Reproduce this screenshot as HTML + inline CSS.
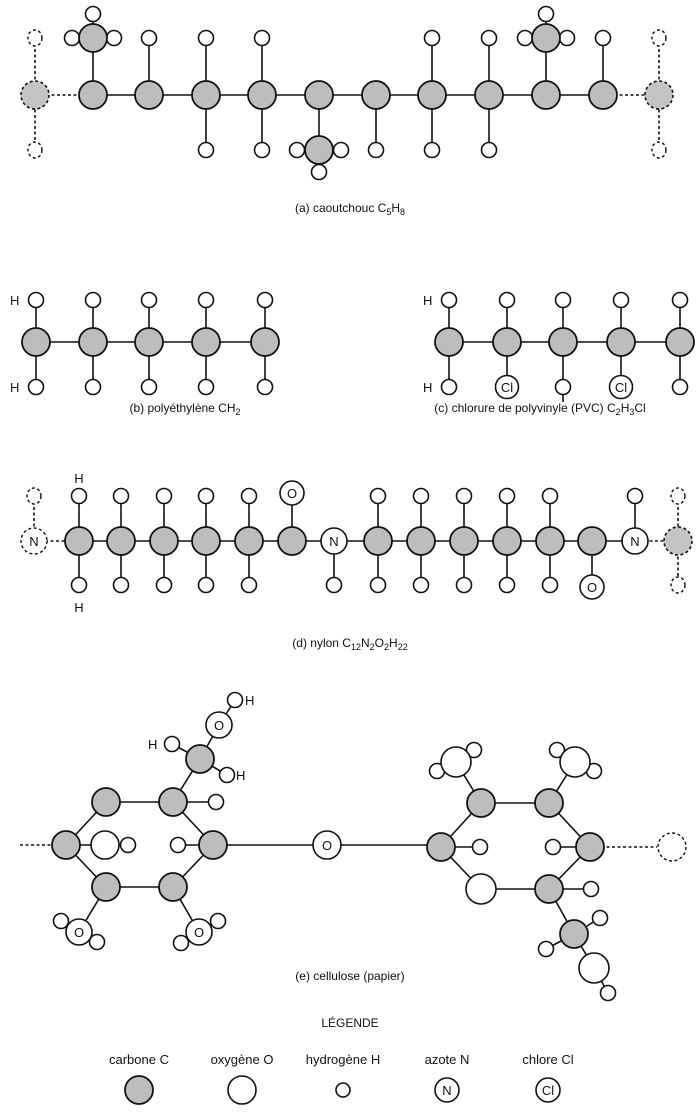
<!DOCTYPE html>
<html><head><meta charset="utf-8"><style>
html,body{margin:0;padding:0;background:#fff;}
svg{display:block;}
text{font-family:"Liberation Sans",Arial,sans-serif;fill:#111;}
.b{stroke:#111;stroke-width:1.6;fill:none;}
.d{stroke:#111;stroke-width:1.6;fill:none;stroke-dasharray:3,2.5;}
.C{fill:#bdbdbd;stroke:#111;stroke-width:1.8;}
.Cd{fill:#c4c4c4;stroke:#111;stroke-width:1.6;stroke-dasharray:3,2.5;}
.W{fill:#fff;stroke:#111;stroke-width:1.6;}
.Wd{fill:#fff;stroke:#111;stroke-width:1.4;stroke-dasharray:3,2.5;}
.l{font-size:13px;text-anchor:middle;}
.cap{font-size:12px;text-anchor:middle;}
</style></head><body>
<svg width="700" height="1113" viewBox="0 0 700 1113" xmlns="http://www.w3.org/2000/svg">
<!-- (a) caoutchouc -->
<g>
<line class="b" x1="93" y1="95" x2="603" y2="95"/>
<line class="d" x1="35" y1="95" x2="93" y2="95"/>
<line class="d" x1="603" y1="95" x2="659" y2="95"/>
<line class="d" x1="35" y1="38" x2="35" y2="150"/>
<line class="d" x1="659" y1="38" x2="659" y2="150"/>
<line class="b" x1="93" y1="14" x2="93" y2="95"/><line class="b" x1="72" y1="38" x2="114" y2="38"/>
<line class="b" x1="546" y1="14" x2="546" y2="95"/><line class="b" x1="525" y1="38" x2="567" y2="38"/>
<line class="b" x1="149" y1="38" x2="149" y2="95"/>
<line class="b" x1="206" y1="38" x2="206" y2="150"/>
<line class="b" x1="262" y1="38" x2="262" y2="150"/>
<line class="b" x1="432" y1="38" x2="432" y2="150"/>
<line class="b" x1="489" y1="38" x2="489" y2="150"/>
<line class="b" x1="603" y1="38" x2="603" y2="95"/>
<line class="b" x1="376" y1="95" x2="376" y2="150"/>
<line class="b" x1="319" y1="95" x2="319" y2="172"/><line class="b" x1="297" y1="150" x2="341" y2="150"/>
<ellipse class="Wd" cx="35" cy="38" rx="7" ry="8"/><ellipse class="Wd" cx="35" cy="150" rx="7" ry="8"/>
<ellipse class="Wd" cx="659" cy="38" rx="7" ry="8"/><ellipse class="Wd" cx="659" cy="150" rx="7" ry="8"/>
<circle class="Cd" cx="35" cy="95" r="14"/><circle class="Cd" cx="659" cy="95" r="14"/>
<circle class="W" cx="93" cy="14" r="7.5"/><circle class="W" cx="72" cy="38" r="7.5"/><circle class="W" cx="114" cy="38" r="7.5"/>
<circle class="C" cx="93" cy="38" r="14"/>
<circle class="W" cx="546" cy="14" r="7.5"/><circle class="W" cx="525" cy="38" r="7.5"/><circle class="W" cx="567" cy="38" r="7.5"/>
<circle class="C" cx="546" cy="38" r="14"/>
<circle class="W" cx="297" cy="150" r="7.5"/><circle class="W" cx="341" cy="150" r="7.5"/><circle class="W" cx="319" cy="172" r="7.5"/>
<circle class="C" cx="319" cy="150" r="14"/>
<circle class="W" cx="149" cy="38" r="7.5"/><circle class="W" cx="206" cy="38" r="7.5"/><circle class="W" cx="262" cy="38" r="7.5"/>
<circle class="W" cx="432" cy="38" r="7.5"/><circle class="W" cx="489" cy="38" r="7.5"/><circle class="W" cx="603" cy="38" r="7.5"/>
<circle class="W" cx="206" cy="150" r="7.5"/><circle class="W" cx="262" cy="150" r="7.5"/><circle class="W" cx="376" cy="150" r="7.5"/>
<circle class="W" cx="432" cy="150" r="7.5"/><circle class="W" cx="489" cy="150" r="7.5"/>
<circle class="C" cx="93" cy="95" r="14"/><circle class="C" cx="149" cy="95" r="14"/><circle class="C" cx="206" cy="95" r="14"/>
<circle class="C" cx="262" cy="95" r="14"/><circle class="C" cx="319" cy="95" r="14"/><circle class="C" cx="376" cy="95" r="14"/>
<circle class="C" cx="432" cy="95" r="14"/><circle class="C" cx="489" cy="95" r="14"/><circle class="C" cx="546" cy="95" r="14"/>
<circle class="C" cx="603" cy="95" r="14"/>
<text class="cap" x="350" y="212">(a) caoutchouc C<tspan font-size="9" dy="3">5</tspan><tspan dy="-3">H</tspan><tspan font-size="9" dy="3">8</tspan></text>
</g>
<!-- (b) polyethylene -->
<g>
<line class="b" x1="36" y1="342" x2="265" y2="342"/>
<line class="b" x1="36" y1="300" x2="36" y2="387"/><line class="b" x1="93" y1="300" x2="93" y2="387"/>
<line class="b" x1="149" y1="300" x2="149" y2="387"/><line class="b" x1="206" y1="300" x2="206" y2="387"/>
<line class="b" x1="265" y1="300" x2="265" y2="387"/>
<circle class="W" cx="36" cy="300" r="7.5"/><circle class="W" cx="93" cy="300" r="7.5"/><circle class="W" cx="149" cy="300" r="7.5"/><circle class="W" cx="206" cy="300" r="7.5"/><circle class="W" cx="265" cy="300" r="7.5"/>
<circle class="W" cx="36" cy="387" r="7.5"/><circle class="W" cx="93" cy="387" r="7.5"/><circle class="W" cx="149" cy="387" r="7.5"/><circle class="W" cx="206" cy="387" r="7.5"/><circle class="W" cx="265" cy="387" r="7.5"/>
<circle class="C" cx="36" cy="342" r="14"/><circle class="C" cx="93" cy="342" r="14"/><circle class="C" cx="149" cy="342" r="14"/><circle class="C" cx="206" cy="342" r="14"/><circle class="C" cx="265" cy="342" r="14"/>
<text x="10" y="305" font-size="13">H</text><text x="10" y="392" font-size="13">H</text>
<text class="cap" x="185" y="412">(b) polyéthylène CH<tspan font-size="9" dy="3">2</tspan></text>
</g>
<!-- (c) PVC -->
<g>
<line class="b" x1="449" y1="342" x2="680" y2="342"/>
<line class="b" x1="449" y1="300" x2="449" y2="387"/><line class="b" x1="507" y1="300" x2="507" y2="387"/>
<line class="b" x1="563" y1="300" x2="563" y2="402"/><line class="b" x1="621" y1="300" x2="621" y2="387"/>
<line class="b" x1="680" y1="300" x2="680" y2="387"/>
<circle class="W" cx="449" cy="300" r="7.5"/><circle class="W" cx="507" cy="300" r="7.5"/><circle class="W" cx="563" cy="300" r="7.5"/><circle class="W" cx="621" cy="300" r="7.5"/><circle class="W" cx="680" cy="300" r="7.5"/>
<circle class="W" cx="449" cy="387" r="7.5"/><circle class="W" cx="563" cy="387" r="7.5"/><circle class="W" cx="680" cy="387" r="7.5"/>
<circle class="W" cx="507" cy="387" r="11.5"/><circle class="W" cx="621" cy="387" r="11.5"/>
<text class="l" x="507" y="392" font-size="12">Cl</text><text class="l" x="621" y="392" font-size="12">Cl</text>
<circle class="C" cx="449" cy="342" r="14"/><circle class="C" cx="507" cy="342" r="14"/><circle class="C" cx="563" cy="342" r="14"/><circle class="C" cx="621" cy="342" r="14"/><circle class="C" cx="680" cy="342" r="14"/>
<text x="423" y="305" font-size="13">H</text><text x="423" y="392" font-size="13">H</text>
<text class="cap" x="540" y="412">(c) chlorure de polyvinyle (PVC) C<tspan font-size="9" dy="3">2</tspan><tspan dy="-3">H</tspan><tspan font-size="9" dy="3">3</tspan><tspan dy="-3">Cl</tspan></text>
</g>
<!-- (d) nylon -->
<g>
<line class="b" x1="79" y1="541" x2="633" y2="541"/>
<line class="d" x1="34" y1="541" x2="79" y2="541"/><line class="d" x1="633" y1="541" x2="678" y2="541"/>
<line class="d" x1="34" y1="496" x2="34" y2="541"/>
<line class="d" x1="678" y1="496" x2="678" y2="585"/>
<line class="b" x1="79" y1="496" x2="79" y2="585"/><line class="b" x1="121" y1="496" x2="121" y2="585"/>
<line class="b" x1="164" y1="496" x2="164" y2="585"/><line class="b" x1="206" y1="496" x2="206" y2="585"/>
<line class="b" x1="249" y1="496" x2="249" y2="585"/>
<line class="b" x1="292" y1="493" x2="292" y2="541"/>
<line class="b" x1="334" y1="541" x2="334" y2="585"/>
<line class="b" x1="378" y1="496" x2="378" y2="585"/><line class="b" x1="421" y1="496" x2="421" y2="585"/>
<line class="b" x1="464" y1="496" x2="464" y2="585"/><line class="b" x1="507" y1="496" x2="507" y2="585"/>
<line class="b" x1="550" y1="496" x2="550" y2="585"/>
<line class="b" x1="592" y1="541" x2="592" y2="587"/>
<line class="b" x1="635" y1="496" x2="635" y2="541"/>
<ellipse class="Wd" cx="34" cy="496" rx="7" ry="8"/><ellipse class="Wd" cx="678" cy="496" rx="7" ry="8"/><ellipse class="Wd" cx="678" cy="585" rx="7" ry="8"/>
<circle class="Wd" cx="34" cy="541" r="13"/><text class="l" x="34" y="546">N</text>
<circle class="Cd" cx="678" cy="541" r="14"/>
<g>
<circle class="W" cx="79" cy="496" r="7.5"/><circle class="W" cx="121" cy="496" r="7.5"/><circle class="W" cx="164" cy="496" r="7.5"/><circle class="W" cx="206" cy="496" r="7.5"/><circle class="W" cx="249" cy="496" r="7.5"/>
<circle class="W" cx="378" cy="496" r="7.5"/><circle class="W" cx="421" cy="496" r="7.5"/><circle class="W" cx="464" cy="496" r="7.5"/><circle class="W" cx="507" cy="496" r="7.5"/><circle class="W" cx="550" cy="496" r="7.5"/><circle class="W" cx="635" cy="496" r="7.5"/>
<circle class="W" cx="79" cy="585" r="7.5"/><circle class="W" cx="121" cy="585" r="7.5"/><circle class="W" cx="164" cy="585" r="7.5"/><circle class="W" cx="206" cy="585" r="7.5"/><circle class="W" cx="249" cy="585" r="7.5"/>
<circle class="W" cx="334" cy="585" r="7.5"/>
<circle class="W" cx="378" cy="585" r="7.5"/><circle class="W" cx="421" cy="585" r="7.5"/><circle class="W" cx="464" cy="585" r="7.5"/><circle class="W" cx="507" cy="585" r="7.5"/><circle class="W" cx="550" cy="585" r="7.5"/>
</g>
<circle class="W" cx="292" cy="493" r="12"/><text class="l" x="292" y="498">O</text>
<circle class="W" cx="592" cy="587" r="12"/><text class="l" x="592" y="592">O</text>
<circle class="C" cx="79" cy="541" r="14"/><circle class="C" cx="121" cy="541" r="14"/><circle class="C" cx="164" cy="541" r="14"/><circle class="C" cx="206" cy="541" r="14"/><circle class="C" cx="249" cy="541" r="14"/><circle class="C" cx="292" cy="541" r="14"/>
<circle class="W" cx="334" cy="541" r="13"/><text class="l" x="334" y="546">N</text>
<circle class="C" cx="378" cy="541" r="14"/><circle class="C" cx="421" cy="541" r="14"/><circle class="C" cx="464" cy="541" r="14"/><circle class="C" cx="507" cy="541" r="14"/><circle class="C" cx="550" cy="541" r="14"/><circle class="C" cx="592" cy="541" r="14"/>
<circle class="W" cx="635" cy="541" r="13"/><text class="l" x="635" y="546">N</text>
<text class="l" x="79" y="483">H</text><text class="l" x="79" y="612">H</text>
<text class="cap" x="350" y="647">(d) nylon C<tspan font-size="9" dy="3">12</tspan><tspan dy="-3">N</tspan><tspan font-size="9" dy="3">2</tspan><tspan dy="-3">O</tspan><tspan font-size="9" dy="3">2</tspan><tspan dy="-3">H</tspan><tspan font-size="9" dy="3">22</tspan></text>
</g>
<!-- (e) cellulose -->
<g>
<line class="d" x1="20" y1="845" x2="52" y2="845"/>
<polyline class="b" points="66,845 106,802 173,802 213,845 173,887 106,887 66,845"/>
<line class="b" x1="66" y1="845" x2="128" y2="845"/>
<line class="b" x1="178" y1="845" x2="213" y2="845"/>
<line class="b" x1="173" y1="802" x2="216" y2="802"/>
<line class="b" x1="173" y1="802" x2="200" y2="759"/>
<line class="b" x1="200" y1="759" x2="219" y2="725"/><line class="b" x1="219" y1="725" x2="235" y2="700"/>
<line class="b" x1="200" y1="759" x2="172" y2="744"/><line class="b" x1="200" y1="759" x2="227" y2="775"/>
<line class="b" x1="106" y1="887" x2="79" y2="932"/><line class="b" x1="173" y1="887" x2="199" y2="932"/>
<line class="b" x1="213" y1="845" x2="441" y2="845"/>
<circle class="W" cx="235" cy="700" r="7.5"/><circle class="W" cx="172" cy="744" r="7.5"/><circle class="W" cx="227" cy="775" r="7.5"/>
<circle class="W" cx="219" cy="725" r="13"/><text class="l" x="219" y="730">O</text>
<circle class="C" cx="200" cy="759" r="14"/>
<text x="245" y="705" font-size="13">H</text><text x="148" y="749" font-size="13">H</text><text x="236" y="780" font-size="13">H</text>
<circle class="W" cx="128" cy="845" r="7.5"/><circle class="W" cx="105" cy="845" r="14"/>
<circle class="W" cx="178" cy="845" r="7.5"/><circle class="W" cx="216" cy="802" r="7.5"/>
<circle class="W" cx="61" cy="921" r="7.5"/><circle class="W" cx="97" cy="942" r="7.5"/>
<circle class="W" cx="79" cy="932" r="13"/><text class="l" x="79" y="937">O</text>
<circle class="W" cx="181" cy="943" r="7.5"/><circle class="W" cx="218" cy="921" r="7.5"/>
<circle class="W" cx="199" cy="932" r="13"/><text class="l" x="199" y="937">O</text>
<circle class="C" cx="66" cy="845" r="14"/><circle class="C" cx="106" cy="802" r="14"/><circle class="C" cx="173" cy="802" r="14"/>
<circle class="C" cx="213" cy="845" r="14"/><circle class="C" cx="173" cy="887" r="14"/><circle class="C" cx="106" cy="887" r="14"/>
<circle class="W" cx="327" cy="845" r="14"/><text class="l" x="327" y="850">O</text>
<!-- right ring -->
<polyline class="b" points="441,847 481,803 549,803 590,847 549,889 481,889 441,847"/>
<line class="b" x1="441" y1="847" x2="480" y2="847"/><line class="b" x1="553" y1="847" x2="590" y2="847"/>
<line class="b" x1="549" y1="889" x2="591" y2="889"/>
<line class="b" x1="481" y1="803" x2="456" y2="762"/><line class="b" x1="456" y1="762" x2="437" y2="771"/><line class="b" x1="456" y1="762" x2="474" y2="750"/>
<line class="b" x1="549" y1="803" x2="575" y2="762"/><line class="b" x1="575" y1="762" x2="557" y2="750"/><line class="b" x1="575" y1="762" x2="594" y2="771"/>
<line class="b" x1="549" y1="889" x2="574" y2="934"/><line class="b" x1="574" y1="934" x2="600" y2="918"/><line class="b" x1="574" y1="934" x2="546" y2="949"/>
<line class="b" x1="574" y1="934" x2="594" y2="968"/><line class="b" x1="594" y1="968" x2="608" y2="993"/>
<line class="d" x1="590" y1="847" x2="657" y2="847"/>
<circle class="Wd" cx="672" cy="847" r="14"/>
<circle class="W" cx="437" cy="771" r="7.5"/><circle class="W" cx="474" cy="750" r="7.5"/><circle class="W" cx="456" cy="762" r="15"/>
<circle class="W" cx="557" cy="750" r="7.5"/><circle class="W" cx="594" cy="771" r="7.5"/><circle class="W" cx="575" cy="762" r="15"/>
<circle class="W" cx="480" cy="847" r="7.5"/><circle class="W" cx="553" cy="847" r="7.5"/><circle class="W" cx="591" cy="889" r="7.5"/>
<circle class="W" cx="481" cy="889" r="15"/>
<circle class="W" cx="600" cy="918" r="7.5"/><circle class="W" cx="546" cy="949" r="7.5"/>
<circle class="W" cx="608" cy="993" r="7.5"/><circle class="W" cx="594" cy="968" r="15"/>
<circle class="C" cx="574" cy="934" r="14"/>
<circle class="C" cx="441" cy="847" r="14"/><circle class="C" cx="481" cy="803" r="14"/><circle class="C" cx="549" cy="803" r="14"/>
<circle class="C" cx="590" cy="847" r="14"/><circle class="C" cx="549" cy="889" r="14"/>
<text class="cap" x="350" y="980">(e) cellulose (papier)</text>
</g>
<!-- legend -->
<g>
<text class="cap" x="350" y="1027">LÉGENDE</text>
<text class="l" x="139" y="1064">carbone C</text>
<text class="l" x="242" y="1064">oxygène O</text>
<text class="l" x="343" y="1064">hydrogène H</text>
<text class="l" x="447" y="1064">azote N</text>
<text class="l" x="548" y="1064">chlore Cl</text>
<circle class="C" cx="139" cy="1090" r="14"/>
<circle class="W" cx="242" cy="1090" r="14"/>
<circle class="W" cx="343" cy="1090" r="7"/>
<circle class="W" cx="447" cy="1090" r="12"/><text class="l" x="447" y="1095" font-size="12">N</text>
<circle class="W" cx="548" cy="1090" r="12"/><text class="l" x="548" y="1095" font-size="12">Cl</text>
</g>
</svg>
</body></html>
